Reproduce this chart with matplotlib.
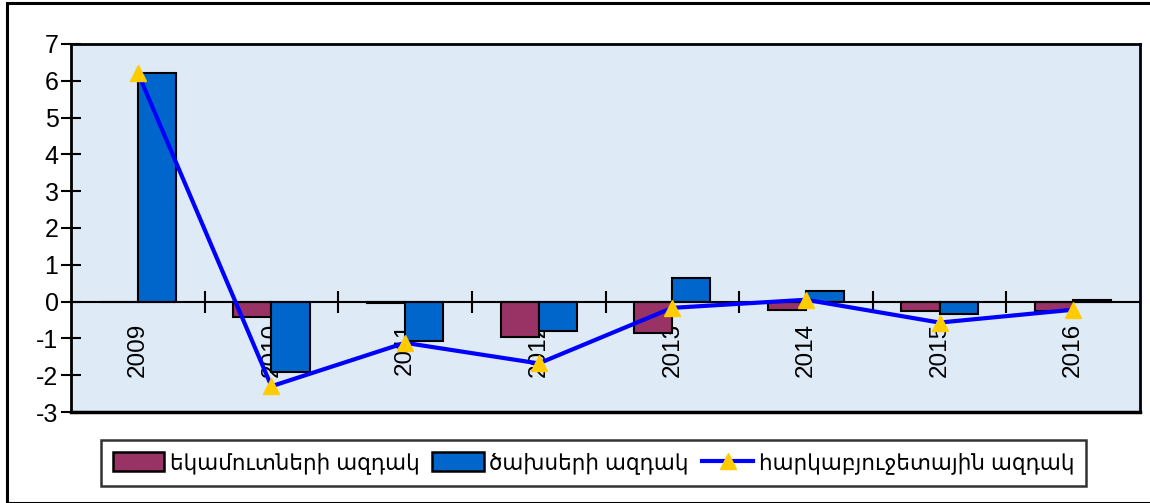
import matplotlib
matplotlib.use("Agg")
import matplotlib.pyplot as plt
import numpy as np
from matplotlib.patches import Rectangle
from matplotlib.lines import Line2D

years = ["2009", "2010", "2011", "2012", "2013", "2014", "2015", "2016"]
revenue = [0.0, -0.43, -0.05, -0.95, -0.84, -0.24, -0.25, -0.25]
spending = [6.22, -1.90, -1.06, -0.79, 0.65, 0.30, -0.35, 0.05]
fiscal = [6.22, -2.30, -1.12, -1.68, -0.17, 0.05, -0.57, -0.22]
labels = ["եկամուտների ազդակ", "ծախսերի ազդակ", "հարկաբյուջետային ազդակ"]

FONT = ["Liberation Sans", "DejaVu Sans"]
plt.rcParams["font.family"] = FONT
plt.rcParams["axes.unicode_minus"] = False

W, H = 1150, 503
fig = plt.figure(figsize=(W / 100, H / 100), dpi=100)
fig.patch.set_facecolor("white")

# figure border
fig.add_artist(Rectangle((7 / W, 0.0), 1.2, (H - 3) / H, transform=fig.transFigure,
                         fill=False, edgecolor="black", linewidth=2.2))

ax = fig.add_axes([71 / W, (H - 412) / H, (1140 - 71) / W, (412 - 44) / H])
ax.set_facecolor("#dfeaf7")

x = np.arange(len(years))
bw = 0.285
ax.bar(x - bw / 2, revenue, bw, color="#993366", edgecolor="black", linewidth=1.5, zorder=2)
ax.bar(x + bw / 2, spending, bw, color="#0066CC", edgecolor="black", linewidth=1.5, zorder=2)
ax.plot(x, fiscal, color="#0000FF", linewidth=3, marker="^", markersize=12,
        markerfacecolor="#FFCC00", markeredgecolor="#FFCC00", zorder=4)

ax.set_xlim(-0.5, len(years) - 0.5)
ax.set_ylim(-3, 7)
ax.set_yticks(range(-3, 8))
ax.tick_params(axis="y", which="major", direction="inout", length=14, width=1.5,
               labelsize=18, pad=2)

# zero axis with ticks
ax.spines["bottom"].set_position(("data", 0))
ax.spines["bottom"].set_linewidth(1.5)
ax.set_xticks(x)
ax.set_xticklabels(years, rotation=90, fontsize=17.5, va="top")
ax.set_xticks(np.arange(0.5, len(years) - 0.5, 1.0), minor=True)
ax.tick_params(axis="x", which="major", length=0, pad=15)
ax.tick_params(axis="x", which="minor", direction="inout", length=16, width=1.5)
for s in ["left", "top", "right"]:
    ax.spines[s].set_linewidth(2)
# bottom frame line
ax.add_line(Line2D([0, 1], [0, 0], transform=ax.transAxes, color="black",
                   linewidth=2.5, clip_on=False, zorder=5))

handles = [Rectangle((0, 0), 1, 1, facecolor="#993366", edgecolor="black", linewidth=1.8),
           Rectangle((0, 0), 1, 1, facecolor="#0066CC", edgecolor="black", linewidth=1.8),
           Line2D([0], [0], color="#0000FF", linewidth=3, marker="^", markersize=12,
                  markerfacecolor="#FFCC00", markeredgecolor="#FFCC00")]
leg = fig.legend(handles, labels, loc="center", bbox_to_anchor=((99 + 1088) / 2 / W, 1 - 463 / H),
                 ncol=3, fontsize=15.5, frameon=True, fancybox=False, edgecolor="black",
                 handlelength=2.4, handleheight=1.0, handletextpad=0.25, columnspacing=0.6,
                 borderpad=0.55, borderaxespad=0)
leg.get_frame().set_linewidth(1.8)

fig.savefig("out.png", dpi=100)
